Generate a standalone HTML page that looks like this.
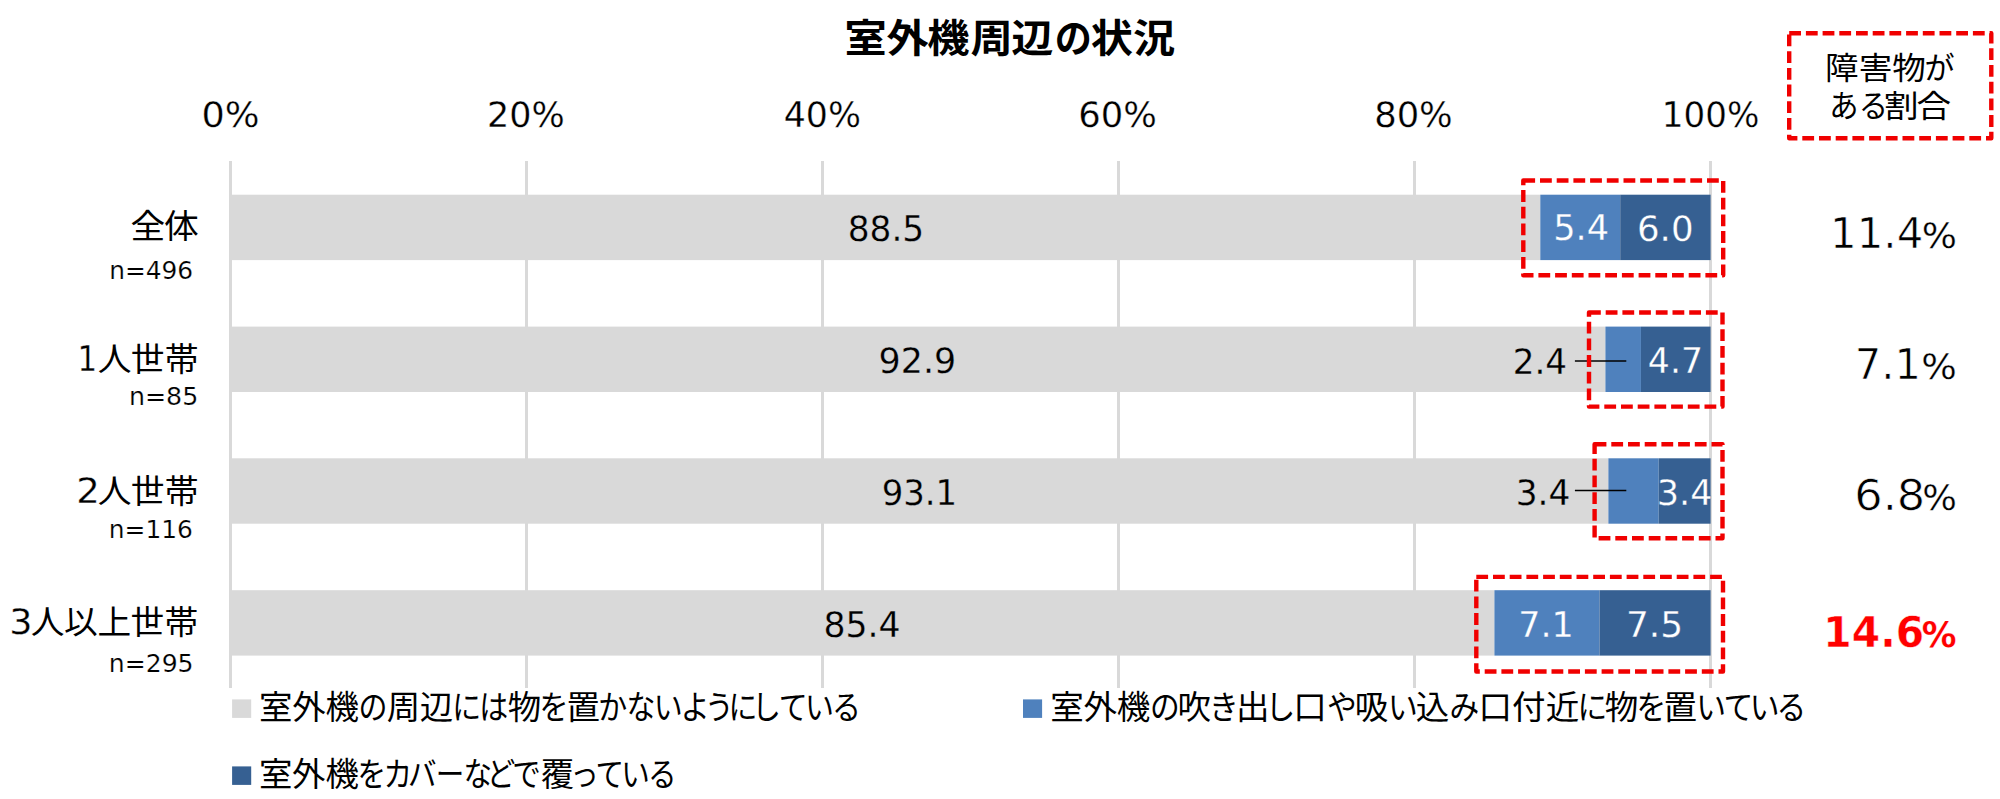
<!DOCTYPE html>
<html lang="ja"><head><meta charset="utf-8"><title>室外機周辺の状況</title>
<style>html,body{margin:0;padding:0;background:#fff}svg{display:block}text{white-space:pre}</style></head>
<body><svg width="2000" height="799" viewBox="0 0 2000 799">
<rect width="2000" height="799" fill="#fff"/>
<g>
<rect x="229.00" y="161.0" width="3" height="527.0" fill="#d9d9d9"/>
<rect x="525.00" y="161.0" width="3" height="527.0" fill="#d9d9d9"/>
<rect x="821.00" y="161.0" width="3" height="527.0" fill="#d9d9d9"/>
<rect x="1117.00" y="161.0" width="3" height="527.0" fill="#d9d9d9"/>
<rect x="1413.00" y="161.0" width="3" height="527.0" fill="#d9d9d9"/>
<rect x="1709.00" y="161.0" width="3" height="527.0" fill="#d9d9d9"/>
<rect x="232.00" y="194.70" width="1308.30" height="65.4" fill="#d9d9d9"/>
<rect x="1540.30" y="194.70" width="79.92" height="65.4" fill="#4f81bd"/>
<rect x="1620.22" y="194.70" width="90.38" height="65.4" fill="#366092"/>
<rect x="232.00" y="326.60" width="1373.42" height="65.4" fill="#d9d9d9"/>
<rect x="1605.42" y="326.60" width="35.52" height="65.4" fill="#4f81bd"/>
<rect x="1640.94" y="326.60" width="69.66" height="65.4" fill="#366092"/>
<rect x="232.00" y="458.30" width="1376.38" height="65.4" fill="#d9d9d9"/>
<rect x="1608.38" y="458.30" width="50.32" height="65.4" fill="#4f81bd"/>
<rect x="1658.70" y="458.30" width="51.90" height="65.4" fill="#366092"/>
<rect x="232.00" y="590.20" width="1262.42" height="65.4" fill="#d9d9d9"/>
<rect x="1494.42" y="590.20" width="105.08" height="65.4" fill="#4f81bd"/>
<rect x="1599.50" y="590.20" width="111.10" height="65.4" fill="#366092"/>
<rect x="232.1" y="699.4" width="19.1" height="18.5" fill="#d9d9d9"/>
<rect x="1023" y="699.4" width="19.1" height="18.5" fill="#4f81bd"/>
<rect x="232.1" y="766.4" width="19.1" height="18.5" fill="#366092"/>
</g>
<g>
<text transform="translate(201.58 126.70) scale(0.9150 0.8725)" font-size="40" font-weight="400" fill="#000" stroke="#fff" stroke-width="0.3" style='font-family:"DejaVu Sans", "Liberation Sans", sans-serif'>0%</text>
<text transform="translate(486.98 126.70) scale(0.8743 0.8725)" font-size="40" font-weight="400" fill="#000" stroke="#fff" stroke-width="0.3" style='font-family:"DejaVu Sans", "Liberation Sans", sans-serif'>20%</text>
<text transform="translate(783.76 126.70) scale(0.8686 0.8725)" font-size="40" font-weight="400" fill="#000" stroke="#fff" stroke-width="0.3" style='font-family:"DejaVu Sans", "Liberation Sans", sans-serif'>40%</text>
<text transform="translate(1078.25 126.70) scale(0.8838 0.8725)" font-size="40" font-weight="400" fill="#000" stroke="#fff" stroke-width="0.3" style='font-family:"DejaVu Sans", "Liberation Sans", sans-serif'>60%</text>
<text transform="translate(1374.15 126.70) scale(0.8838 0.8725)" font-size="40" font-weight="400" fill="#000" stroke="#fff" stroke-width="0.3" style='font-family:"DejaVu Sans", "Liberation Sans", sans-serif'>80%</text>
<text transform="translate(1661.87 126.70) scale(0.8521 0.8725)" font-size="40" font-weight="400" fill="#000" stroke="#fff" stroke-width="0.3" style='font-family:"DejaVu Sans", "Liberation Sans", sans-serif'>100%</text>
<text transform="translate(847.72 240.50) scale(0.8594 0.8725)" font-size="40" font-weight="400" fill="#000" stroke="#d9d9d9" stroke-width="0.3" style='font-family:"DejaVu Sans", "Liberation Sans", sans-serif'>88.5</text>
<text transform="translate(878.61 373.20) scale(0.8709 0.8725)" font-size="40" font-weight="400" fill="#000" stroke="#d9d9d9" stroke-width="0.3" style='font-family:"DejaVu Sans", "Liberation Sans", sans-serif'>92.9</text>
<text transform="translate(881.67 505.30) scale(0.8485 0.8725)" font-size="40" font-weight="400" fill="#000" stroke="#d9d9d9" stroke-width="0.3" style='font-family:"DejaVu Sans", "Liberation Sans", sans-serif'>93.1</text>
<text transform="translate(823.40 636.80) scale(0.8657 0.8725)" font-size="40" font-weight="400" fill="#000" stroke="#d9d9d9" stroke-width="0.3" style='font-family:"DejaVu Sans", "Liberation Sans", sans-serif'>85.4</text>
<text transform="translate(1553.15 240.28) scale(0.8776 0.8725)" font-size="40" font-weight="400" fill="#fff" stroke="#4f81bd" stroke-width="0.3" style='font-family:"DejaVu Sans", "Liberation Sans", sans-serif'>5.4</text>
<text transform="translate(1636.93 240.50) scale(0.8900 0.8725)" font-size="40" font-weight="400" fill="#fff" stroke="#366092" stroke-width="0.3" style='font-family:"DejaVu Sans", "Liberation Sans", sans-serif'>6.0</text>
<text transform="translate(1647.87 373.41) scale(0.8655 0.8725)" font-size="40" font-weight="400" fill="#fff" stroke="#366092" stroke-width="0.3" style='font-family:"DejaVu Sans", "Liberation Sans", sans-serif'>4.7</text>
<text transform="translate(1656.75 505.40) scale(0.8759 0.8725)" font-size="40" font-weight="400" fill="#fff" stroke="#366092" stroke-width="0.3" style='font-family:"DejaVu Sans", "Liberation Sans", sans-serif'>3.4</text>
<text transform="translate(1518.24 636.91) scale(0.8729 0.8725)" font-size="40" font-weight="400" fill="#fff" stroke="#4f81bd" stroke-width="0.3" style='font-family:"DejaVu Sans", "Liberation Sans", sans-serif'>7.1</text>
<text transform="translate(1625.95 636.73) scale(0.8991 0.8725)" font-size="40" font-weight="400" fill="#fff" stroke="#366092" stroke-width="0.3" style='font-family:"DejaVu Sans", "Liberation Sans", sans-serif'>7.5</text>
<text transform="translate(1512.64 373.63) scale(0.8549 0.8725)" font-size="40" font-weight="400" fill="#000" stroke="#d9d9d9" stroke-width="0.3" style='font-family:"DejaVu Sans", "Liberation Sans", sans-serif'>2.4</text>
<text transform="translate(1515.71 505.40) scale(0.8586 0.8725)" font-size="40" font-weight="400" fill="#000" stroke="#d9d9d9" stroke-width="0.3" style='font-family:"DejaVu Sans", "Liberation Sans", sans-serif'>3.4</text>
<text transform="translate(109.17 278.75) scale(0.6214 0.6175)" font-size="40" font-weight="400" fill="#000" stroke="#fff" stroke-width="0.3" style='font-family:"DejaVu Sans", "Liberation Sans", sans-serif'>n=496</text>
<text transform="translate(128.93 404.75) scale(0.6318 0.6175)" font-size="40" font-weight="400" fill="#000" stroke="#fff" stroke-width="0.3" style='font-family:"DejaVu Sans", "Liberation Sans", sans-serif'>n=85</text>
<text transform="translate(108.76 538.00) scale(0.6229 0.6175)" font-size="40" font-weight="400" fill="#000" stroke="#fff" stroke-width="0.3" style='font-family:"DejaVu Sans", "Liberation Sans", sans-serif'>n=116</text>
<text transform="translate(108.75 672.30) scale(0.6278 0.6175)" font-size="40" font-weight="400" fill="#000" stroke="#fff" stroke-width="0.3" style='font-family:"DejaVu Sans", "Liberation Sans", sans-serif'>n=295</text>
<g aria-label="室外機周辺の状況" font-size="40" font-weight="700" fill="#000" style='font-family:"Liberation Sans", "Noto Sans CJK JP", sans-serif'><text transform="translate(0 51.89) scale(1.0543 0.9733)" x="801.0 840.9 879.5 920.4 959.1" y="0">室外機周辺</text><text transform="translate(0 51.89) scale(0.9275 0.9733)" x="1137.3" y="0">の</text><text transform="translate(0 51.89) scale(1.0543 0.9733)" x="1034.6 1074.6" y="0">状況</text></g>
<g aria-label="室外機の周辺には物を置かないようにしている" font-size="40" font-weight="400" fill="#000" style='font-family:"Liberation Sans", "Noto Sans CJK JP", sans-serif'><text transform="translate(0 719.26) scale(0.8366 0.8109)" x="309.5 349.3 389.1" y="0">室外機</text><text transform="translate(0 719.26) scale(0.7238 0.8109)" x="495.2" y="0">の</text><text transform="translate(0 719.26) scale(0.8366 0.8109)" x="462.2 501.7" y="0">周辺</text><text transform="translate(0 719.26) scale(0.7238 0.8109)" x="624.8 662.0" y="0">には</text><text transform="translate(0 719.26) scale(0.8366 0.8109)" x="607.0" y="0">物</text><text transform="translate(0 719.26) scale(0.7238 0.8109)" x="745.4" y="0">を</text><text transform="translate(0 719.26) scale(0.8366 0.8109)" x="677.1" y="0">置</text><text transform="translate(0 719.26) scale(0.7238 0.8109)" x="826.5 865.7 903.3 940.5 973.7 1006.6 1039.0 1076.1 1112.2 1149.4" y="0">かないようにしている</text></g>
<g aria-label="室外機の吹き出し口や吸い込み口付近に物を置いている" font-size="40" font-weight="400" fill="#000" style='font-family:"Liberation Sans", "Noto Sans CJK JP", sans-serif'><text transform="translate(0 719.26) scale(0.8378 0.8109)" x="1253.5 1293.4 1333.0" y="0">室外機</text><text transform="translate(0 719.26) scale(0.7445 0.8109)" x="1544.8" y="0">の</text><text transform="translate(0 719.26) scale(0.8378 0.8109)" x="1405.4" y="0">吹</text><text transform="translate(0 719.26) scale(0.7445 0.8109)" x="1623.8" y="0">き</text><text transform="translate(0 719.26) scale(0.8378 0.8109)" x="1475.2" y="0">出</text><text transform="translate(0 719.26) scale(0.7445 0.8109)" x="1699.8" y="0">し</text><text transform="translate(0 719.26) scale(0.8378 0.8109)" x="1543.5" y="0">口</text><text transform="translate(0 719.26) scale(0.7445 0.8109)" x="1782.4" y="0">や</text><text transform="translate(0 719.26) scale(0.8378 0.8109)" x="1617.1" y="0">吸</text><text transform="translate(0 719.26) scale(0.7445 0.8109)" x="1864.4" y="0">い</text><text transform="translate(0 719.26) scale(0.8378 0.8109)" x="1689.8" y="0">込</text><text transform="translate(0 719.26) scale(0.7445 0.8109)" x="1946.8" y="0">み</text><text transform="translate(0 719.26) scale(0.8378 0.8109)" x="1764.9 1804.8 1844.9" y="0">口付近</text><text transform="translate(0 719.26) scale(0.7445 0.8109)" x="2118.8" y="0">に</text><text transform="translate(0 719.26) scale(0.8378 0.8109)" x="1915.4" y="0">物</text><text transform="translate(0 719.26) scale(0.7445 0.8109)" x="2198.0" y="0">を</text><text transform="translate(0 719.26) scale(0.8378 0.8109)" x="1985.7" y="0">置</text><text transform="translate(0 719.26) scale(0.7445 0.8109)" x="2278.4 2314.9 2350.3 2386.3" y="0">いている</text></g>
<g aria-label="室外機をカバーなどで覆っている" font-size="40" font-weight="400" fill="#000" style='font-family:"Liberation Sans", "Noto Sans CJK JP", sans-serif'><text transform="translate(0 786.26) scale(0.8354 0.8109)" x="309.9 349.6 389.5" y="0">室外機</text><text transform="translate(0 786.26) scale(0.7142 0.8109)" x="500.7 536.8 571.4 610.0 648.9 681.4 717.1" y="0">をカバーなどで</text><text transform="translate(0 786.26) scale(0.8354 0.8109)" x="647.3" y="0">覆</text><text transform="translate(0 786.26) scale(0.7142 0.8109)" x="798.3 833.8 869.8 907.5" y="0">っている</text></g>
<g aria-label="障害物が" font-size="40" font-weight="400" fill="#000" style='font-family:"Liberation Sans", "Noto Sans CJK JP", sans-serif'><text transform="translate(0 78.62) scale(0.8394 0.7750)" x="2174.3 2214.4 2254.2" y="0">障害物</text><text transform="translate(0 78.62) scale(0.7503 0.7750)" x="2564.9" y="0">が</text></g>
<g aria-label="ある割合" font-size="40" font-weight="400" fill="#000" style='font-family:"Liberation Sans", "Noto Sans CJK JP", sans-serif'><text transform="translate(0 117.02) scale(0.7321 0.7750)" x="2498.8 2539.1" y="0">ある</text><text transform="translate(0 117.02) scale(0.8640 0.7750)" x="2180.7 2218.1" y="0">割合</text></g>
<g font-size="40" font-weight="400" fill="#000" style='font-family:"Liberation Sans", "Noto Sans CJK JP", sans-serif'><text transform="translate(0 238.39) scale(0.8676 0.8381)" x="150.3 189.1" y="0">全体</text></g>
<g aria-label="11.4%"><text transform="translate(1830.03 248.34) scale(1.0471 1.0750)" font-size="40" font-weight="400" fill="#000" stroke="#fff" stroke-width="0.65" style='font-family:"DejaVu Sans", "Liberation Sans", sans-serif'>11.4</text><text transform="translate(1921.68 248.40) scale(0.9263 0.8725)" font-size="40" font-weight="400" fill="#000" stroke="#fff" stroke-width="0.3" style='font-family:"DejaVu Sans", "Liberation Sans", sans-serif'>%</text></g>
<g aria-label="7.1%"><text transform="translate(1854.86 379.04) scale(1.0411 1.0750)" font-size="40" font-weight="400" fill="#000" stroke="#fff" stroke-width="0.65" style='font-family:"DejaVu Sans", "Liberation Sans", sans-serif'>7.1</text><text transform="translate(1921.36 379.05) scale(0.9353 0.8725)" font-size="40" font-weight="400" fill="#000" stroke="#fff" stroke-width="0.3" style='font-family:"DejaVu Sans", "Liberation Sans", sans-serif'>%</text></g>
<g aria-label="6.8%"><text transform="translate(1854.27 509.64) scale(1.1162 1.0750)" font-size="40" font-weight="400" fill="#000" stroke="#fff" stroke-width="0.65" style='font-family:"DejaVu Sans", "Liberation Sans", sans-serif'>6.8</text><text transform="translate(1922.22 509.55) scale(0.9113 0.8725)" font-size="40" font-weight="400" fill="#000" stroke="#fff" stroke-width="0.3" style='font-family:"DejaVu Sans", "Liberation Sans", sans-serif'>%</text></g>
<g aria-label="14.6%"><text transform="translate(1823.35 646.77) scale(1.0208 1.0750)" font-size="40" font-weight="700" fill="#ff0000" stroke="#fff" stroke-width="0.4" style='font-family:"DejaVu Sans", "Liberation Sans", sans-serif'>14.6</text><text transform="translate(1921.80 646.70) scale(0.8671 0.8725)" font-size="40" font-weight="700" fill="#ff0000" stroke="#fff" stroke-width="0.2" style='font-family:"DejaVu Sans", "Liberation Sans", sans-serif'>%</text></g>
<g aria-label="1人世帯"><text transform="translate(77.43 371.12) scale(0.7706 0.8800)" font-size="40" font-weight="400" fill="#000" stroke="#fff" stroke-width="0.3" style='font-family:"DejaVu Sans", "Liberation Sans", sans-serif'>1</text><g font-size="40" font-weight="400" fill="#000" style='font-family:"Liberation Sans", "Noto Sans CJK JP", sans-serif'><text transform="translate(0 370.76) scale(0.8444 0.8136)" x="115.8 154.7 195.1" y="0">人世帯</text></g></g>
<g aria-label="2人世帯"><text transform="translate(76.22 502.94) scale(0.9260 0.8800)" font-size="40" font-weight="400" fill="#000" stroke="#fff" stroke-width="0.3" style='font-family:"DejaVu Sans", "Liberation Sans", sans-serif'>2</text><g font-size="40" font-weight="400" fill="#000" style='font-family:"Liberation Sans", "Noto Sans CJK JP", sans-serif'><text transform="translate(0 502.66) scale(0.8444 0.8136)" x="115.8 154.7 195.1" y="0">人世帯</text></g></g>
<g aria-label="3人以上世帯"><text transform="translate(9.14 634.01) scale(0.9120 0.8800)" font-size="40" font-weight="400" fill="#000" stroke="#fff" stroke-width="0.3" style='font-family:"DejaVu Sans", "Liberation Sans", sans-serif'>3</text><g font-size="40" font-weight="400" fill="#000" style='font-family:"Liberation Sans", "Noto Sans CJK JP", sans-serif'><text transform="translate(0 634.25) scale(0.8417 0.8163)" x="36.4 75.9 115.9 155.0 195.3" y="0">人以上世帯</text></g></g>
</g>
<g>
<line x1="1574.9" y1="361" x2="1626.3" y2="361" stroke="#000" stroke-width="1.7"/>
<line x1="1574.9" y1="490.5" x2="1626.3" y2="490.5" stroke="#000" stroke-width="1.7"/>
<rect x="1523.3" y="180.5" width="199.9" height="94.7" fill="none" stroke="#f00000" stroke-width="4.4" stroke-dasharray="11.8 4.9" stroke-linejoin="round"/>
<rect x="1589.0" y="312.5" width="133.5" height="94.1" fill="none" stroke="#f00000" stroke-width="4.4" stroke-dasharray="11.8 4.9" stroke-linejoin="round"/>
<rect x="1594.6" y="444.3" width="127.9" height="94.0" fill="none" stroke="#f00000" stroke-width="4.4" stroke-dasharray="11.8 4.9" stroke-linejoin="round"/>
<rect x="1476.3" y="576.9" width="246.7" height="94.6" fill="none" stroke="#f00000" stroke-width="4.4" stroke-dasharray="11.8 4.9" stroke-linejoin="round"/>
<rect x="1789.2" y="33.3" width="202.1" height="105.0" fill="none" stroke="#f00000" stroke-width="4.4" stroke-dasharray="11.8 4.9" stroke-linejoin="round"/>
</g>
</svg></body></html>
